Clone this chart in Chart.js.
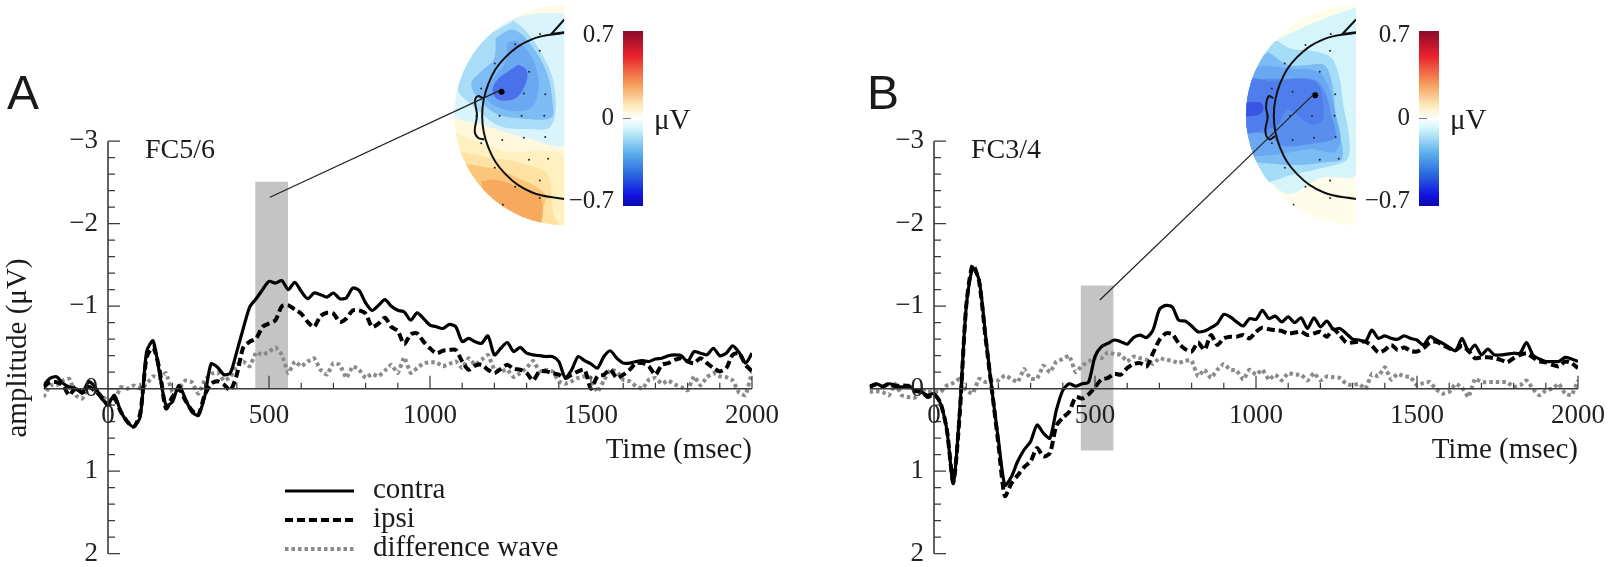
<!DOCTYPE html>
<html>
<head>
<meta charset="utf-8">
<title>contra ipsi</title>
<script src="https://cdn.jsdelivr.net/npm/chart.js@4"></script>
<style>
  html, body { margin: 0; background: #fff; }
  #page { position: relative; width: 1609px; height: 567px; overflow: hidden; }
  canvas { position: absolute; }
</style>
</head>
<body>
<div id="page">
  <canvas id="topoA" style="left:440px;top:0" width="270" height="240"></canvas>
  <canvas id="topoB" style="left:1220px;top:0" width="270" height="240"></canvas>
  <canvas id="barA" style="left:563px;top:0" width="137" height="240"></canvas>
  <canvas id="barB" style="left:1359px;top:0" width="137" height="240"></canvas>
  <canvas id="panelA" style="left:0;top:0" width="800" height="567"></canvas>
  <canvas id="panelB" style="left:800px;top:0" width="809" height="567"></canvas>
</div>
<script>
const times = [
  -200,-180,-160,-140,-120,-100,-80,-60,-40,-20,
  0,20,40,60,80,100,120,140,160,180,
  200,220,240,260,280,300,320,340,360,380,
  400,420,440,460,480,500,520,540,560,580,
  600,620,640,660,680,700,720,740,760,780,
  800,820,840,860,880,900,920,940,960,980,
  1000,1020,1040,1060,1080,1100,1120,1140,1160,1180,
  1200,1220,1240,1260,1280,1300,1320,1340,1360,1380,
  1400,1420,1440,1460,1480,1500,1520,1540,1560,1580,
  1600,1620,1640,1660,1680,1700,1720,1740,1760,1780,
  1800,1820,1840,1860,1880,1900,1920,1940,1960,1980,
  2000];

const leftContra = [
  -.04,-.125,-.145,-.065,-.02,0,.05,-.085,-.02,.12,
  .18,.08,.28,.40,.46,.34,-.45,-.58,-.19,.2,
  .16,-.04,.12,.28,.32,.10,-.30,-.26,-.17,-.19,
  -.45,-.73,-.99,-1.09,-1.2,-1.3,-1.28,-1.31,-1.2,-1.29,
  -1.18,-1.09,-1.16,-1.14,-1.11,-1.16,-1.09,-1.1,-1.22,-1.19,
  -1.04,-.95,-1.01,-1.08,-1.0,-.95,-.93,-.83,-.92,-.85,
  -.77,-.75,-.73,-.78,-.75,-.57,-.61,-.57,-.55,-.64,
  -.41,-.49,-.56,-.45,-.50,-.43,-.41,-.40,-.39,-.39,
  -.33,-.13,-.23,-.39,-.34,-.30,-.25,-.39,-.46,-.37,
  -.31,-.31,-.33,-.34,-.33,-.36,-.37,-.40,-.41,-.40,
  -.33,-.45,-.43,-.41,-.49,-.40,-.43,-.52,-.44,-.31,
  -.43];
const leftIpsi = [
  -.02,-.08,-.08,-.04,.08,-.02,.05,-.02,.03,.10,
  .2,.12,.28,.40,.46,.3,-.38,-.5,-.23,.24,
  .1,0,.14,.26,.32,.08,-.06,-.09,-.05,.02,
  -.17,-.5,-.57,-.61,-.75,-.79,-.83,-1.0,-1.01,-.96,
  -.91,-.81,-.75,-.88,-.92,-.91,-.81,-.85,-.95,-.95,
  -.91,-.75,-.79,-.86,-.75,-.70,-.54,-.66,-.67,-.57,
  -.49,-.43,-.46,-.47,-.47,-.33,-.23,-.28,-.29,-.23,
  -.19,-.24,-.29,-.24,-.23,-.19,-.10,-.21,-.21,-.19,
  -.17,-.13,-.17,-.21,-.23,0,-.15,-.17,-.23,-.13,
  -.17,-.23,-.31,-.31,-.27,-.17,-.29,-.31,-.35,-.37,
  -.33,-.31,-.37,-.31,-.25,-.21,-.25,-.41,-.43,-.29,
  -.21];
const leftDiff = [
  .10,-.04,-.04,-.10,-.12,.08,.12,-.02,0,.09,
  .14,.14,-.02,0,-.04,0,-.06,-.15,-.13,-.19,
  .04,0,-.10,-.08,.06,-.1,-.18,-.2,-.1,-.14,
  -.29,-.33,-.27,-.44,-.41,-.45,-.5,-.41,-.19,-.33,
  -.27,-.33,-.37,-.23,-.17,-.31,-.29,-.13,-.27,-.23,
  -.13,-.18,-.15,-.22,-.29,-.19,-.38,-.19,-.25,-.31,
  -.32,-.32,-.27,-.3,-.33,-.25,-.37,-.29,-.35,-.41,
  -.23,-.21,-.23,-.14,-.19,-.25,-.34,-.21,-.23,-.21,
  -.09,-.06,-.09,-.13,-.15,-.13,.04,-.10,-.23,-.21,
  -.11,-.09,-.03,0,-.11,-.13,-.06,-.1,-.05,-.02,
  .02,-.15,-.04,-.14,-.19,-.15,-.14,-.10,.05,.08,
  -.2];

const rightContra = [
  -.03,-.06,-.03,-.06,-.04,-.02,-.04,.02,.04,.08,
  .06,.18,.50,1.15,.26,-.99,-1.46,-1.32,-.65,.02,
  .62,1.17,1.07,.88,.74,.64,.44,.54,.60,.26,
  .02,-.06,-.03,-.06,-.08,-.39,-.51,-.55,-.59,-.57,
  -.54,-.62,-.65,-.62,-.71,-.96,-1.01,-.99,-.83,-.82,
  -.76,-.69,-.70,-.74,-.79,-.9,-.87,-.81,-.76,-.85,
  -.84,-.95,-.85,-.88,-.81,-.87,-.80,-.86,-.73,-.86,
  -.75,-.82,-.72,-.73,-.67,-.6,-.59,-.57,-.71,-.61,
  -.64,-.61,-.6,-.64,-.61,-.59,-.53,-.63,-.59,-.55,
  -.5,-.46,-.61,-.45,-.53,-.41,-.48,-.41,-.41,-.42,
  -.43,-.43,-.56,-.41,-.36,-.33,-.33,-.33,-.38,-.36,
  -.33];
const rightIpsi = [
  -.02,-.05,-.02,-.06,-.03,-.04,-.03,.03,.03,.1,
  .07,.17,.50,1.13,.3,-1.0,-1.5,-1.3,-.62,.02,
  .67,1.3,1.15,1.05,.95,.88,.72,.82,.78,.45,
  .35,.28,.10,.12,.07,-.02,-.11,-.13,-.18,-.17,
  -.25,-.30,-.31,-.27,-.43,-.59,-.67,-.66,-.55,-.48,
  -.45,-.56,-.47,-.65,-.53,-.61,-.63,-.63,-.65,-.61,
  -.69,-.74,-.72,-.71,-.70,-.67,-.68,-.69,-.65,-.67,
  -.69,-.63,-.72,-.65,-.56,-.56,-.57,-.57,-.52,-.44,
  -.47,-.53,-.47,-.5,-.46,-.45,-.49,-.56,-.57,-.53,
  -.49,-.47,-.52,-.46,-.37,-.38,-.38,-.37,-.35,-.32,
  -.37,-.41,-.43,-.38,-.33,-.32,-.29,-.27,-.33,-.31,
  -.25];
const rightDiff = [
  .04,.03,.04,.08,-.06,.08,.1,.11,.01,.04,
  .03,.04,-.04,-.07,-.12,.02,.06,-.12,-.08,-.1,
  -.1,-.16,-.12,-.08,-.24,-.12,-.12,-.28,-.2,-.33,
  -.36,-.4,-.2,-.28,-.33,-.38,-.37,-.44,-.42,-.41,
  -.33,-.39,-.37,-.35,-.3,-.37,-.35,-.34,-.31,-.34,
  -.34,-.15,-.23,-.13,-.23,-.30,-.23,-.22,-.11,-.23,
  -.17,-.23,-.11,-.17,-.1,-.19,-.17,-.17,-.10,-.19,
  -.1,-.15,-.14,-.13,-.06,-.04,-.06,0,-.18,-.15,
  -.26,-.11,-.18,-.15,-.14,-.04,-.07,-.08,.01,.06,
  .04,-.06,-.01,.1,-.12,-.08,-.08,-.08,-.08,-.08,
  -.02,-.04,-.1,0,.08,.02,0,-.06,.06,.08,
  -.1];

// grey analysis window [from, to, top, bottom] and the line up to the electrode
const windowA = [457, 559, -2.51, 0];
const windowB = [455, 558, -1.25, 0.75];
const leaderA = [[503, -2.32], [1214, -3.61]];
const leaderB = [[515, -1.075], [1180, -3.57]];

const legendLabels = ["contra", "ipsi", "difference wave"];
const colorbarTicks = [0.7, 0, -0.7];
const colorbarLabels = ["0.7", "0", "\u22120.7"];

// scalp maps, coordinates on a 810x720 map grid
const headA = [[372,89],[273,109],[190,165],[137,248],[118,347],[137,445],[190,528],[273,585],[372,605]];
const noseA = [[372,48],[332,93],[372,88]];
const earA = [[120,292],[105,286],[96,300],[102,345],[95,395],[105,415],[125,420]];
const markerA = [[178,272]];
const dotsA = [[297,93],[220,125],[296,145],[157,185],[263,210],[115,262],[247,278],[313,280],[100,348],[172,347],[240,347],[310,347],[180,422],[247,415],[313,413],[115,432],[263,483],[322,480],[157,508],[296,548],[220,567],[296,602],[182,623]];
const contoursA = [
  ["#fff8dc", [[0,350],[372,350],[372,720],[0,720]]],
  ["#fffbe8", [[200,0],[372,0],[372,60],[200,60]]],
  ["#d9f5fb", [[372,28],[280,30],[210,48],[130,100],[20,200],[20,340],[110,372],[180,395],[270,420],[372,432]]],
  ["#fff1bf", [[20,395],[100,425],[200,460],[300,455],[372,475],[372,720],[20,720]]],
  ["#fde2a4", [[20,450],[130,475],[230,492],[320,530],[338,650],[358,700],[20,720]]],
  ["#fbc67a", [[20,490],[150,510],[230,540],[312,590],[300,650],[285,700],[20,720]]],
  ["#f7aa5e", [[115,550],[160,545],[230,570],[300,605],[285,700],[150,700]]],
  ["#a8dcf7", [[215,52],[130,105],[75,180],[40,260],[100,325],[170,378],[250,388],[332,378],[340,250],[300,150],[250,80]]],
  ["#7dbcf4", [[160,105],[215,80],[275,135],[320,220],[335,300],[332,352],[240,355],[160,340],[100,285],[85,245],[120,205],[155,170]]],
  ["#6aa8f2", [[195,120],[225,115],[262,150],[288,210],[292,270],[270,322],[210,332],[150,312],[128,280],[160,220],[190,180]]],
  ["#4a70ea", [[230,188],[255,205],[255,240],[225,290],[170,298],[150,270],[165,235],[205,205]]]
];

const headB = [[408,89],[309,109],[226,165],[173,248],[154,347],[173,445],[226,528],[309,585],[408,605]];
const noseB = [[408,48],[366,93],[408,88]];
const earB = [[152,292],[138,286],[130,320],[135,350],[128,395],[140,420],[158,410]];
const markerB = [[282,283]];
const dotsB = [[330,93],[252,127],[328,145],[188,185],[296,210],[148,262],[212,272],[344,280],[133,347],[204,347],[272,347],[342,347],[212,422],[278,415],[345,413],[148,432],[296,483],[355,480],[188,508],[328,548],[252,567],[328,602],[215,623]];
const contoursB = [
  ["#fffdea", [[0,0],[408,0],[408,720],[0,720]]],
  ["#d6f5fb", [[408,12],[350,30],[250,70],[165,112],[30,200],[30,500],[130,545],[200,590],[300,540],[408,525]]],
  ["#a5dcf7", [[165,115],[30,150],[30,560],[130,555],[210,530],[320,505],[382,480],[385,400],[370,320],[355,220],[330,165],[270,145],[210,140]]],
  ["#7cbcf4", [[138,150],[30,220],[30,490],[105,492],[210,500],[320,490],[365,480],[358,400],[345,340],[335,250],[310,190],[250,190],[200,190]]],
  ["#6aa8f2", [[120,190],[30,240],[30,470],[110,472],[200,462],[270,450],[340,460],[360,420],[345,345],[325,260],[290,210],[210,200]]],
  ["#5a8eee", [[95,232],[30,300],[30,398],[130,402],[180,440],[260,435],[340,420],[345,395],[330,340],[315,280],[280,235],[180,232]]],
  ["#4f7eec", [[150,240],[240,232],[290,250],[305,300],[305,360],[270,375],[220,340],[195,330],[170,370],[150,385],[30,392],[30,235]]],
  ["#3a54e6", [[30,310],[110,305],[122,325],[105,345],[30,342]]]
];

function band(win) {
  return {
    data: [{ x: win[0], y: win[2] }, { x: win[1], y: win[2] }],
    borderWidth: 0, pointRadius: 0,
    backgroundColor: "#c4c4c4",
    fill: { value: win[3] },
  };
}

// axis spines and tick marks, the labels stay with the scales
const axisTicks = {
  id: "axisTicks",
  afterDatasetsDraw(chart) {
    const { ctx, scales: { x, y } } = chart;
    const x0 = x.getPixelForValue(0);
    const y0 = y.getPixelForValue(0);
    ctx.save();
    ctx.strokeStyle = "#3a3a3a";
    ctx.lineWidth = 1.6;
    ctx.beginPath();
    ctx.moveTo(x0, y.top);
    ctx.lineTo(x0, y.bottom);
    ctx.moveTo(x.left, y0);
    ctx.lineTo(x.right, y0);
    ctx.stroke();
    ctx.lineWidth = 1.2;
    ctx.beginPath();
    x.ticks.forEach((t) => {
      if (t.value <= 0) return;
      const px = x.getPixelForValue(t.value);
      ctx.moveTo(px, y0);
      ctx.lineTo(px, y0 - (t.value % 500 === 0 ? 13 : 6));
    });
    y.ticks.forEach((t) => {
      const py = y.getPixelForValue(t.value);
      ctx.moveTo(x0, py);
      ctx.lineTo(x0 + (Math.abs(t.value - Math.round(t.value)) < 1e-6 ? 12 : 7), py);
    });
    ctx.stroke();
    ctx.restore();
  },
};

// letter, electrode name and axis captions, legend for panel A
const panelText = {
  id: "panelText",
  afterDraw(chart, args, opts) {
    const { ctx } = chart;
    ctx.save();
    ctx.fillStyle = "#1a1a1a";
    ctx.textBaseline = "middle";
    ctx.textAlign = "left";
    ctx.font = '48px "Liberation Sans"';
    ctx.fillText(opts.letter, opts.letterX, 96);
    ctx.font = '28px "Liberation Serif"';
    ctx.fillText(opts.site, opts.siteX, 151);
    ctx.font = '29px "Liberation Serif"';
    ctx.textAlign = "right";
    ctx.fillText("Time (msec)", opts.timeX, 450);
    if (opts.legend) {
      ctx.save();
      ctx.translate(18, 348);
      ctx.rotate(-Math.PI / 2);
      ctx.textAlign = "center";
      ctx.fillText("amplitude (\u03bcV)", 0, 0);
      ctx.restore();
      ctx.textAlign = "left";
      legendLabels.forEach((label, i) => {
        const ds = chart.data.datasets[i + 1];
        const ly = 491 + i * 29;
        ctx.beginPath();
        ctx.strokeStyle = ds.borderColor;
        ctx.lineWidth = ds.borderWidth;
        ctx.setLineDash(ds.borderDash || []);
        ctx.moveTo(285, ly);
        ctx.lineTo(354, ly);
        ctx.stroke();
        ctx.fillText(label, 373, ly - 1);
      });
    }
    ctx.restore();
  },
};

function makePanel(id, contra, ipsi, diff, win, leader, pad, text) {
  new Chart(document.getElementById(id), {
    type: "line",
    data: {
      datasets: [
        {
          data: leader.map((p) => ({ x: p[0], y: p[1] })),
          borderColor: "#222", borderWidth: 1.2, pointRadius: 0,
          clip: false,
        },
        { label: legendLabels[0], data: times.map((t, i) => ({ x: t, y: contra[i] })),
          borderColor: "#000", borderWidth: 3.2, pointRadius: 0, tension: 0.25 },
        { label: legendLabels[1], data: times.map((t, i) => ({ x: t, y: ipsi[i] })),
          borderColor: "#000", borderWidth: 4, borderDash: [8, 4], pointRadius: 0, tension: 0.25 },
        { label: legendLabels[2], data: times.map((t, i) => ({ x: t, y: diff[i] })),
          borderColor: "#8a8a8a", borderWidth: 4, borderDash: [3.5, 3], pointRadius: 0, tension: 0.1 },
        band(win),
      ],
    },
    options: {
      responsive: false,
      animation: false,
      layout: { padding: pad },
      plugins: { legend: { display: false }, tooltip: { enabled: false }, panelText: text },
      scales: {
        x: {
          type: "linear", min: -200, max: 2000,
          position: { y: 0 },
          border: { display: false },
          grid: { drawOnChartArea: false, tickLength: 8, tickColor: "transparent" },
          ticks: {
            stepSize: 100, autoSkip: false, maxRotation: 0, z: 1,
            color: "#222", font: { family: "Liberation Serif", size: 27 },
            callback: (v) => (v >= 0 && v % 500 === 0 ? String(v) : ""),
          },
        },
        y: {
          type: "linear", min: -3, max: 2, reverse: true,
          position: { x: -31 },
          border: { display: false },
          grid: { drawOnChartArea: false, drawTicks: false },
          // half a label of padding would push the axis bottom up
          afterFit: (s) => { s.paddingTop = 0; s.paddingBottom = 0; },
          ticks: {
            stepSize: 0.2, autoSkip: false, z: 1,
            color: "#222", font: { family: "Liberation Serif", size: 27 },
            callback: (v) => {
              const r = Math.round(v);
              if (Math.abs(v - r) > 1e-6) return "";
              return r < 0 ? "\u2212" + Math.abs(r) : String(r);
            },
          },
        },
      },
    },
    plugins: [axisTicks, panelText],
  });
}

// keeps the map colours inside the half disc
const mapClip = {
  id: "mapClip",
  beforeDatasetsDraw(chart, args, opts) {
    const { ctx, scales: { x, y } } = chart;
    const r = x.getPixelForValue(opts.cx) - x.getPixelForValue(opts.cx - opts.r);
    ctx.save();
    ctx.beginPath();
    ctx.arc(x.getPixelForValue(opts.cx), y.getPixelForValue(345), r, -Math.PI / 2, Math.PI / 2, true);
    ctx.closePath();
    ctx.clip();
  },
  afterDatasetsDraw(chart) {
    chart.ctx.restore();
  },
};

function makeMap(id, contours, head, nose, ear, dots, marker, cx) {
  const lineSet = (pts, tension) => ({
    data: pts, borderColor: "#111", borderWidth: 2, showLine: true, pointRadius: 0, tension: tension,
  });
  new Chart(document.getElementById(id), {
    type: "scatter",
    data: {
      // first dataset ends up on top
      datasets: [
        { data: marker, pointRadius: 3, pointBackgroundColor: "#000", pointBorderWidth: 0 },
        { data: dots, pointRadius: 1, pointBackgroundColor: "#223", pointBorderWidth: 0 },
        lineSet(head, 0.4),
        lineSet(nose, 0),
        lineSet(ear, 0.4),
      ].concat(contours.slice().reverse().map((c) => ({
        data: c[1].concat([c[1][0]]),
        showLine: true, fill: "shape", backgroundColor: c[0],
        borderWidth: 0, pointRadius: 0, tension: 0.35,
      }))),
    },
    options: {
      responsive: false,
      animation: false,
      plugins: { legend: { display: false }, tooltip: { enabled: false }, mapClip: { cx: cx, r: 340 } },
      scales: {
        x: { display: false, min: 0, max: 810 },
        y: { display: false, min: 0, max: 720, reverse: true },
      },
    },
    plugins: [mapClip],
  });
}

const barGradient = (ctx) => {
  const { chartArea, ctx: c } = ctx.chart;
  if (!chartArea) return "#fff";
  const g = c.createLinearGradient(0, chartArea.top, 0, chartArea.bottom);
  g.addColorStop(0, "#8b0a2a");
  g.addColorStop(0.14, "#e8202c");
  g.addColorStop(0.3, "#f59a58");
  g.addColorStop(0.43, "#fdecbc");
  g.addColorStop(0.5, "#ffffff");
  g.addColorStop(0.57, "#c8f0fa");
  g.addColorStop(0.69, "#60b4ec");
  g.addColorStop(0.82, "#2a68e0");
  g.addColorStop(0.94, "#1212e0");
  g.addColorStop(1, "#0a0ab0");
  return g;
};

const barUnit = {
  id: "barUnit",
  afterDraw(chart) {
    const { ctx, chartArea, scales: { y } } = chart;
    ctx.save();
    ctx.strokeStyle = "#777";
    ctx.lineWidth = 1;
    ctx.beginPath();
    ctx.moveTo(chartArea.left, y.getPixelForValue(0));
    ctx.lineTo(chartArea.left + 8, y.getPixelForValue(0));
    ctx.stroke();
    ctx.fillStyle = "#1a1a1a";
    ctx.font = '29px "Liberation Serif"';
    ctx.textBaseline = "middle";
    ctx.fillText("\u03bcV", chartArea.right + 11, y.getPixelForValue(0) + 3);
    ctx.restore();
  },
};

function makeBar(id) {
  new Chart(document.getElementById(id), {
    type: "bar",
    data: {
      labels: [""],
      datasets: [{ data: [[-0.7, 0.7]], backgroundColor: barGradient, barPercentage: 1, categoryPercentage: 1 }],
    },
    options: {
      responsive: false,
      animation: false,
      layout: { padding: { top: 31, bottom: 34, right: 57 } },
      plugins: { legend: { display: false }, tooltip: { enabled: false } },
      scales: {
        x: { display: false },
        y: {
          min: -0.7, max: 0.7,
          border: { display: false },
          grid: { display: false, drawTicks: false },
          afterFit: (s) => { s.width = 60; },
          // the printed numbers sit a little inside the ends of the bar
          afterBuildTicks: (s) => { s.ticks = colorbarTicks.map((v) => ({ value: v * 0.95 })); },
          ticks: {
            padding: 9, color: "#222", font: { family: "Liberation Serif", size: 25 },
            callback: (v, i) => colorbarLabels[i],
          },
        },
      },
    },
    plugins: [barUnit],
  });
}

makeMap("topoA", contoursA, headA, noseA, earA, dotsA, markerA, 372);
makeMap("topoB", contoursB, headB, noseB, earB, dotsB, markerB, 408);
makeBar("barA");
makeBar("barB");

makePanel("panelA", leftContra, leftIpsi, leftDiff, windowA, leaderA,
  { left: 43.6, right: 48, top: 141.2, bottom: 13.3 },
  { letter: "A", letterX: 7, site: "FC5/6", siteX: 145, timeX: 752, legend: true });
makePanel("panelB", rightContra, rightIpsi, rightDiff, windowB, leaderB,
  { left: 69.6, right: 31, top: 141.2, bottom: 13.3 },
  { letter: "B", letterX: 67, site: "FC3/4", siteX: 171, timeX: 778, legend: false });
</script>
</body>
</html>
